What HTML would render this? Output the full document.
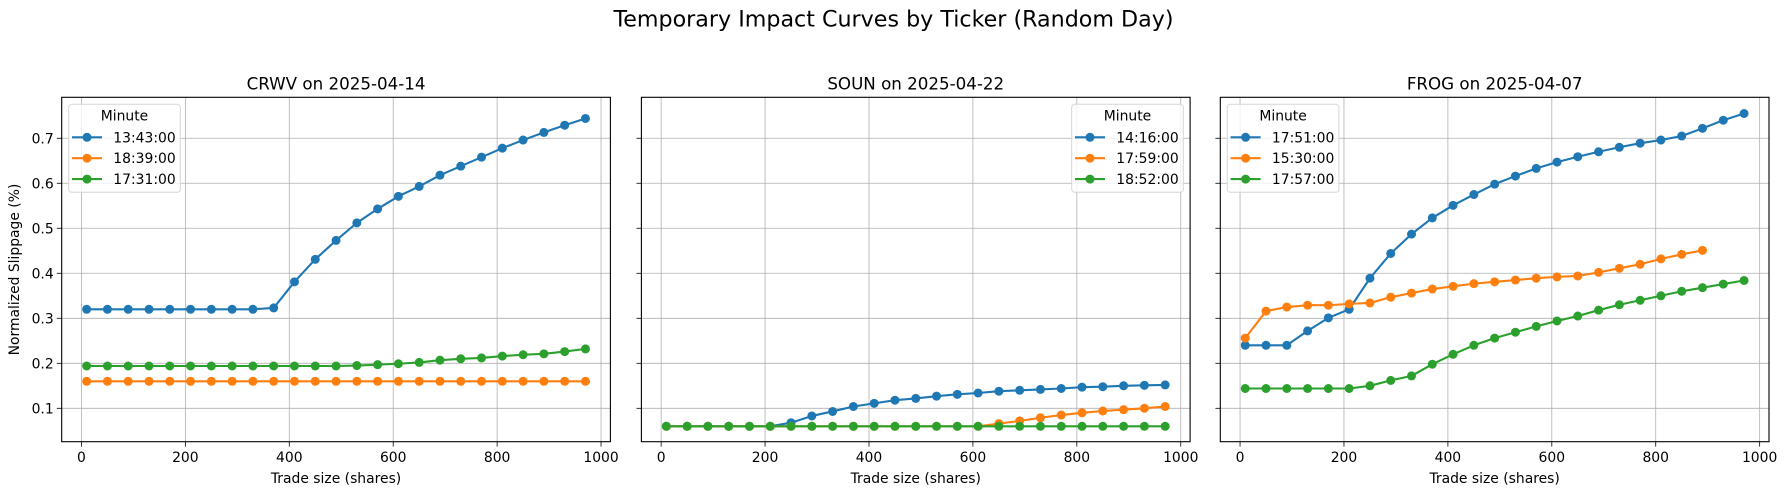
<!DOCTYPE html>
<html><head><meta charset="utf-8"><style>
body{margin:0;background:#fff;}
svg{display:block;font-family:"DejaVu Sans","Liberation Sans",sans-serif;}
</style></head><body>
<svg id="fig" width="1787" height="495" viewBox="0 0 1787 495" xmlns="http://www.w3.org/2000/svg">
<rect width="1787" height="495" fill="#fff"/>
<text x="893.5" y="26.5" font-size="22.2" text-anchor="middle" fill="#000">Temporary Impact Curves by Ticker (Random Day)</text>
</svg>
<script>
const xs = [10,50,90,130,170,210,250,290,330,370,410,450,490,530,570,610,650,690,730,770,810,850,890,930,970];
const panelTitles = ["CRWV on 2025-04-14","SOUN on 2025-04-22","FROG on 2025-04-07"];
const xTicks = [0,200,400,600,800,1000];
const yTicks = [0.1,0.2,0.3,0.4,0.5,0.6,0.7];
const colors = ["#1f77b4","#ff7f0e","#2ca02c"];
const crwvNames = ["13:43:00","18:39:00","17:31:00"];
const crwvBlue = [0.32,0.32,0.32,0.32,0.32,0.32,0.32,0.32,0.32,0.323,0.381,0.431,0.473,0.512,0.543,0.571,0.593,0.618,0.638,0.658,0.678,0.696,0.713,0.729,0.744];
const crwvOrange = [0.16,0.16,0.16,0.16,0.16,0.16,0.16,0.16,0.16,0.16,0.16,0.16,0.16,0.16,0.16,0.16,0.16,0.16,0.16,0.16,0.16,0.16,0.16,0.16,0.16];
const crwvGreen = [0.194,0.194,0.194,0.194,0.194,0.194,0.194,0.194,0.194,0.194,0.194,0.194,0.194,0.195,0.197,0.199,0.202,0.207,0.210,0.212,0.216,0.219,0.221,0.226,0.232];
const sounNames = ["14:16:00","17:59:00","18:52:00"];
const sounBlue = [0.06,0.06,0.06,0.06,0.06,0.06,0.068,0.083,0.093,0.104,0.111,0.118,0.122,0.127,0.131,0.134,0.138,0.140,0.142,0.144,0.147,0.148,0.150,0.151,0.152];
const sounOrange = [0.06,0.06,0.06,0.06,0.06,0.06,0.06,0.06,0.06,0.06,0.06,0.06,0.06,0.06,0.06,0.06,0.066,0.072,0.079,0.085,0.090,0.094,0.097,0.100,0.104];
const sounGreen = [0.06,0.06,0.06,0.06,0.06,0.06,0.06,0.06,0.06,0.06,0.06,0.06,0.06,0.06,0.06,0.06,0.06,0.06,0.06,0.06,0.06,0.06,0.06,0.06,0.06];
const frogNames = ["17:51:00","15:30:00","17:57:00"];
const frogBlue = [0.240,0.240,0.240,0.272,0.301,0.320,0.389,0.444,0.487,0.523,0.551,0.575,0.598,0.616,0.633,0.647,0.659,0.670,0.680,0.689,0.696,0.705,0.722,0.740,0.755];
const frogOrange = [0.256,0.316,0.325,0.329,0.329,0.332,0.334,0.347,0.356,0.365,0.371,0.377,0.381,0.385,0.389,0.392,0.394,0.402,0.411,0.420,0.432,0.442,0.451];
const frogGreen = [0.144,0.144,0.144,0.144,0.144,0.144,0.150,0.162,0.172,0.198,0.220,0.240,0.256,0.269,0.282,0.294,0.305,0.318,0.330,0.340,0.350,0.360,0.368,0.376,0.384];

const panels = [
 {left:61.7, names:crwvNames, series:[crwvBlue,crwvOrange,crwvGreen], legendRight:false, ylabels:true, key:"crwv"},
 {left:641.4, names:sounNames, series:[sounBlue,sounOrange,sounGreen], legendRight:true, ylabels:false, key:"soun"},
 {left:1220.3, names:frogNames, series:[frogBlue,frogOrange,frogGreen], legendRight:false, ylabels:false, key:"frog"}
];
const W = 548.7, TOP = 97.3, BOT = 441.7;
const XMIN = -38, XMAX = 1018, YMIN = 0.0258, YMAX = 0.791;
const NS = "http://www.w3.org/2000/svg";
const svg = document.getElementById('fig');
function mk(tag, attrs, parent){const e=document.createElementNS(NS,tag);for(const k in attrs)e.setAttribute(k,attrs[k]);(parent||svg).appendChild(e);return e;}

panels.forEach((p, pi) => {
  const sx = v => p.left + (v - XMIN) / (XMAX - XMIN) * W;
  const sy = v => BOT - (v - YMIN) / (YMAX - YMIN) * (BOT - TOP);
  const g = mk('g', {});
  
  
  // grid
  xTicks.forEach(t => {
    const l = mk('line', {x1:sx(t), x2:sx(t), y1:TOP, y2:BOT, stroke:'#b0b0b0', 'stroke-width':0.8}, g);
    
    
    const tk = mk('line', {x1:sx(t), x2:sx(t), y1:BOT, y2:BOT+4.9, stroke:'#000', 'stroke-width':0.8}, g);
    
    
    const tl = mk('text', {x:sx(t), y:BOT+20.5, 'font-size':13.9, 'text-anchor':'middle'}, g);
    tl.textContent = t;
    
    
  });
  yTicks.forEach(t => {
    const l = mk('line', {x1:p.left, x2:p.left+W, y1:sy(t), y2:sy(t), stroke:'#b0b0b0', 'stroke-width':0.8}, g);
    
    
    const tk = mk('line', {x1:p.left-4.9, x2:p.left, y1:sy(t), y2:sy(t), stroke:'#000', 'stroke-width':0.8}, g);
    
    
    if (p.ylabels) {
      const tl = mk('text', {x:p.left-8, y:sy(t)+5, 'font-size':13.9, 'text-anchor':'end'}, g);
      tl.textContent = t.toFixed(1);
      
      
    }
  });
  // series
  p.series.forEach((vals, si) => {
    const sg = mk('g', {}, g);
    
    
    const pts = vals.map((v,i) => sx(xs[i]) + ',' + sy(v)).join(' ');
    const pl = mk('polyline', {points:pts, fill:'none', stroke:colors[si], 'stroke-width':2.1, 'stroke-linejoin':'round'}, sg);
    
    
    vals.forEach((v,i) => {
      const c = mk('circle', {cx:sx(xs[i]), cy:sy(v), r:4.5, fill:colors[si]}, sg);
      
      
    });
  });
  // frame
  const fr = mk('rect', {x:p.left, y:TOP, width:W, height:BOT-TOP, fill:'none', stroke:'#000', 'stroke-width':1.1}, g);
  
  
  const tt = mk('text', {x:p.left+W/2, y:89.3, 'font-size':16.7, 'text-anchor':'middle'}, g);
  tt.textContent = panelTitles[pi];
  
  
  const xl = mk('text', {x:p.left+W/2, y:483, 'font-size':13.9, 'text-anchor':'middle'}, g);
  xl.textContent = 'Trade size (shares)';
  
  
  // legend
  const lx = p.legendRight ? p.left + W - 118.4 : p.left + 7;
  const lg = mk('g', {}, g);
  
  
  const lb = mk('rect', {x:lx, y:104.3, width:111.6, height:88, rx:3, fill:'#fff', 'fill-opacity':0.8, stroke:'#d6d6d6', 'stroke-width':1}, lg);
  
  
  const lt = mk('text', {x:lx+55.8, y:120.7, 'font-size':13.9, 'text-anchor':'middle'}, lg);
  lt.textContent = 'Minute';
  
  
  p.names.forEach((n, si) => {
    const yy = 137.3 + si*20.9;
    const eg = mk('g', {}, lg);
    
    
    mk('line', {x1:lx+3.3, x2:lx+33.3, y1:yy, y2:yy, stroke:colors[si], 'stroke-width':2.1}, eg);
    mk('circle', {cx:lx+18.3, cy:yy, r:4.5, fill:colors[si]}, eg);
    const et = mk('text', {x:lx+44.6, y:yy+5, 'font-size':13.9}, eg);
    et.textContent = n;
  });
});
const yl = mk('text', {x:0, y:0, 'font-size':13.9, 'text-anchor':'middle', transform:'translate(19,269.5) rotate(-90)'});
yl.textContent = 'Normalized Slippage (%)';


</script>
</body></html>
